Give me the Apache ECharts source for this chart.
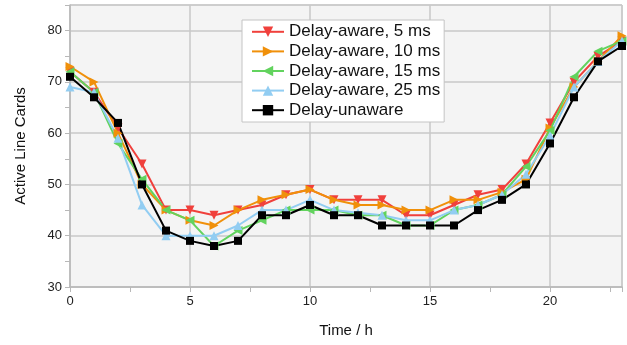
<!DOCTYPE html>
<html>
<head>
<meta charset="utf-8">
<script src="https://cdn.jsdelivr.net/npm/echarts@6/dist/echarts.min.js"></script>
<style>
  html, body { margin: 0; padding: 0; background: #fff; }
  #chart { width: 627px; height: 345px; }
</style>
</head>
<body>
<div id="chart"></div>
<script>
// hours of the day
const hours = [0, 1, 2, 3, 4, 5, 6, 7, 8, 9, 10, 11, 12, 13, 14, 15, 16, 17, 18, 19, 20, 21, 22, 23]

// active line cards per series
const aware5  = [72, 68, 61, 54, 45, 45, 44, 45, 46, 48, 49, 47, 47, 47, 44, 44, 46, 48, 49, 54, 62, 70, 75, 78]
const aware10 = [73, 70, 60, 50, 45, 43, 42, 45, 47, 48, 49, 47, 46, 46, 45, 45, 47, 47, 48.5, 51, 61, 69, 74, 79]
const aware15 = [72, 68, 58, 51, 45, 43, 38, 41, 43, 45, 45, 45, 44, 44, 42, 42, 45, 46, 48, 53.5, 60.5, 71, 76, 78]
const aware25 = [69, 68, 59, 46, 40, 40, 40, 42, 45, 45, 47, 45, 44.5, 44, 43, 43, 45, 46, 48, 52, 59.5, 69, 74, 78]
const unaware = [71, 67, 62, 50, 41, 39, 38, 39, 44, 44, 46, 44, 44, 42, 42, 42, 42, 45, 47, 50, 58, 67, 74, 77]

const names = ['Delay-aware, 5 ms', 'Delay-aware, 10 ms', 'Delay-aware, 15 ms', 'Delay-aware, 25 ms', 'Delay-unaware']
const COLORS = ['#f0403c', '#f0900a', '#62d35e', '#92cdf2', '#000000']

const pairs = arr => hours.map((h, i) => [h, arr[i]])

const mkSeries = (name, data, color, symbol, rotate, size) => ({
  name,
  type: 'line',
  data: pairs(data),
  symbol,
  symbolRotate: rotate,
  symbolSize: size,
  showAllSymbol: true,
  lineStyle: { color, width: 2 },
  itemStyle: { color },
  emphasis: { disabled: true }
})

let myChart = echarts.init(document.getElementById('chart'))

const labelFont = { fontFamily: 'Liberation Sans', fontSize: 13, color: '#222' }

myChart.setOption({
  animation: false,
  color: COLORS,
  textStyle: { fontFamily: 'Liberation Sans' },
  grid: {
    left: 70,
    right: 5,
    top: 5,
    bottom: 58,
    show: true,
    backgroundColor: '#f4f4f4',
    borderColor: '#c4c4c4',
    borderWidth: 1
  },
  legend: {
    orient: 'vertical',
    left: 242,
    top: 20,
    padding: [2, 4, 2, 9],
    itemGap: 0,
    itemWidth: 32,
    itemHeight: 13,
    backgroundColor: '#fff',
    borderColor: '#c4c4c4',
    borderWidth: 1,
    borderRadius: 0,
    textStyle: { fontFamily: 'Liberation Sans', fontSize: 17, lineHeight: 19.6, color: '#111', padding: [0, 0, 0, 0] },
    data: names
  },
  xAxis: {
    type: 'value',
    min: 0,
    max: 23,
    interval: 5,
    name: 'Time / h',
    nameLocation: 'middle',
    nameGap: 36,
    nameTextStyle: { fontFamily: 'Liberation Sans', fontSize: 15, color: '#111' },
    axisLine: { show: true, lineStyle: { color: '#b8b8b8', width: 1.5 } },
    axisTick: { show: true, length: 5, lineStyle: { color: '#b8b8b8' } },
    minorTick: { show: true, splitNumber: 2, length: 5, lineStyle: { color: '#b8b8b8' } },
    axisLabel: Object.assign({ margin: 8, showMaxLabel: false }, labelFont),
    splitLine: { show: true, lineStyle: { color: '#c8c8c8', width: 1.5 } }
  },
  yAxis: {
    type: 'value',
    min: 30,
    max: 85,
    interval: 10,
    name: 'Active Line Cards',
    nameLocation: 'middle',
    nameGap: 42,
    nameTextStyle: { fontFamily: 'Liberation Sans', fontSize: 15, color: '#111' },
    axisLine: { show: true, lineStyle: { color: '#b8b8b8', width: 1.5 } },
    axisTick: { show: true, length: 5, lineStyle: { color: '#b8b8b8' } },
    minorTick: { show: true, splitNumber: 2, length: 5, lineStyle: { color: '#b8b8b8' } },
    axisLabel: Object.assign({ margin: 8, showMaxLabel: false }, labelFont),
    splitLine: { show: true, lineStyle: { color: '#c8c8c8', width: 1.5 } }
  },
  series: [
    mkSeries(names[0], aware5, COLORS[0], 'triangle', 180, 9),
    mkSeries(names[1], aware10, COLORS[1], 'triangle', -90, 9),
    mkSeries(names[2], aware15, COLORS[2], 'triangle', 90, 9),
    mkSeries(names[3], aware25, COLORS[3], 'triangle', 0, 9),
    mkSeries(names[4], unaware, COLORS[4], 'rect', 0, 8)
  ]
})
</script>
</body>
</html>
